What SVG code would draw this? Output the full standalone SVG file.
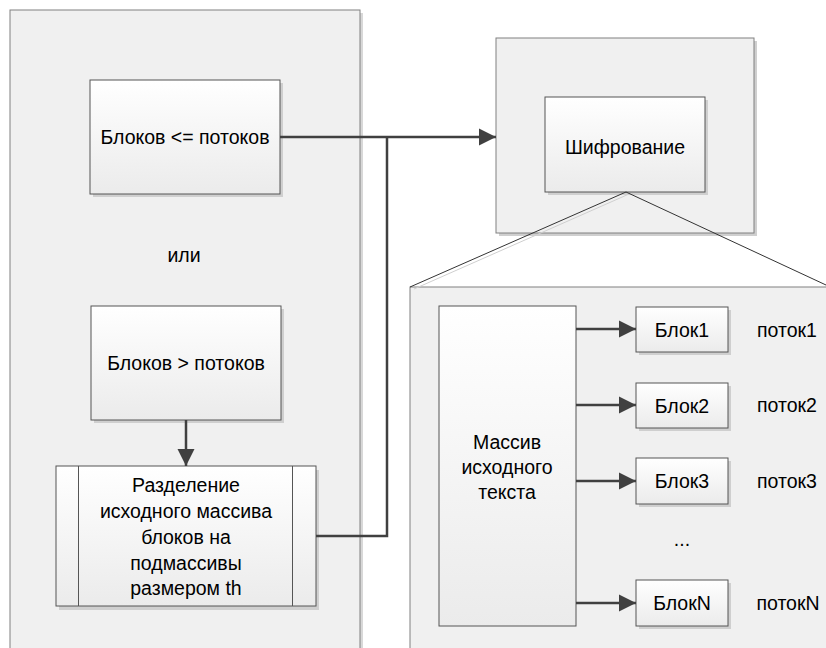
<svg xmlns="http://www.w3.org/2000/svg" width="826" height="648" viewBox="0 0 826 648">
<defs>
<linearGradient id="g" x1="0" y1="0" x2="0" y2="1">
<stop offset="0" stop-color="#ffffff"/>
<stop offset="1" stop-color="#ebebeb"/>
</linearGradient>
<marker id="ah" viewBox="0 0 10 10" refX="10" refY="5" markerWidth="7" markerHeight="7" orient="auto" markerUnits="strokeWidth">
<path d="M0,0 L10,5 L0,10 z" fill="#404040"/>
</marker>
</defs>
<style>
.panel{fill:#f0f0f0;stroke:#808080;stroke-width:1}
.box{fill:url(#g);stroke:#555;stroke-width:1}
.shadow{fill:#cfcfcf}
.t{font-family:"Liberation Sans",Arial,sans-serif;font-size:19.5px;fill:#000;text-anchor:middle;dominant-baseline:central}
.c{fill:none;stroke:#404040;stroke-width:2.5}
.thin{fill:none;stroke:#555;stroke-width:1}
</style>
<rect width="826" height="648" fill="#ffffff"/>

<g id="left-panel">
<rect x="13" y="13" width="350" height="640" fill="#d8d8d8"/>
<rect class="panel" x="10" y="10" width="350" height="640"/>
</g>

<g id="box-le">
<rect class="shadow" x="93" y="83" width="190" height="114"/>
<rect class="box" x="90" y="80" width="190" height="114"/>
<text class="t" x="185" y="137">Блоков &lt;= потоков</text>
</g>

<g id="label-or">
<text class="t" x="184" y="255">или</text>
</g>

<g id="box-gt">
<rect class="shadow" x="94" y="309" width="190" height="114"/>
<rect class="box" x="91" y="306" width="190" height="114"/>
<text class="t" x="186" y="363">Блоков &gt; потоков</text>
</g>

<g id="box-split">
<rect class="shadow" x="59" y="470" width="260" height="140"/>
<rect class="box" x="56" y="466" width="260" height="140"/>
<line class="thin" x1="78.5" y1="466" x2="78.5" y2="606"/>
<line class="thin" x1="292.5" y1="466" x2="292.5" y2="606"/>
<text class="t" x="186" y="485">Разделение</text>
<text class="t" x="186" y="511">исходного массива</text>
<text class="t" x="186" y="537">блоков на</text>
<text class="t" x="186" y="563">подмассивы</text>
<text class="t" x="186" y="588">размером th</text>
</g>

<g id="box-enc-outer">
<rect class="shadow" x="499" y="41" width="258" height="195"/>
<rect class="panel" x="496" y="38" width="258" height="195" stroke="#555"/>
</g>

<g id="box-enc">
<rect class="shadow" x="548" y="100" width="160" height="95"/>
<rect class="box" x="545" y="97" width="160" height="95"/>
<text class="t" x="625" y="147">Шифрование</text>
</g>

<g id="detail-panel">
<rect class="panel" x="410" y="287" width="430" height="380" stroke="#555"/>
</g>

<g id="zoom-lines">
<line x1="629" y1="194" x2="414" y2="289" stroke="#cfcfcf" stroke-width="1"/>
<line x1="626" y1="192" x2="410" y2="287" stroke="#333" stroke-width="1"/>
<line x1="626" y1="192" x2="826" y2="285" stroke="#333" stroke-width="1"/>
</g>

<g id="box-array">
<rect class="box" x="439" y="306" width="137" height="320"/>
<text class="t" x="507" y="442">Массив</text>
<text class="t" x="507" y="467">исходного</text>
<text class="t" x="507" y="492">текста</text>
</g>

<g id="block1">
<rect class="shadow" x="639" y="310" width="92" height="45"/>
<rect class="box" x="636" y="307" width="92" height="45"/>
<text class="t" x="682" y="330">Блок1</text>
</g>
<g id="block2">
<rect class="shadow" x="639" y="386" width="92" height="45"/>
<rect class="box" x="636" y="383" width="92" height="45"/>
<text class="t" x="682" y="406">Блок2</text>
</g>
<g id="block3">
<rect class="shadow" x="639" y="461" width="92" height="46"/>
<rect class="box" x="636" y="458" width="92" height="46"/>
<text class="t" x="682" y="481">Блок3</text>
</g>
<g id="blockN">
<rect class="shadow" x="639" y="583" width="92" height="46"/>
<rect class="box" x="636" y="580" width="92" height="46"/>
<text class="t" x="682" y="603">БлокN</text>
</g>

<g id="labels">
<text class="t" x="787" y="330">поток1</text>
<text class="t" x="787" y="405">поток2</text>
<text class="t" x="787" y="481">поток3</text>
<text class="t" x="682" y="539">...</text>
<text class="t" x="788" y="603">потокN</text>
</g>

<g id="connectors">
<polyline class="c" points="280,137 496,137" marker-end="url(#ah)"/>
<polyline class="c" points="316,536 387,536 387,137"/>
<line class="c" x1="186" y1="420" x2="186" y2="466" marker-end="url(#ah)"/>
<line class="c" x1="576" y1="329" x2="636" y2="329" marker-end="url(#ah)"/>
<line class="c" x1="576" y1="405" x2="636" y2="405" marker-end="url(#ah)"/>
<line class="c" x1="576" y1="481" x2="636" y2="481" marker-end="url(#ah)"/>
<line class="c" x1="576" y1="603" x2="636" y2="603" marker-end="url(#ah)"/>
</g>
</svg>
